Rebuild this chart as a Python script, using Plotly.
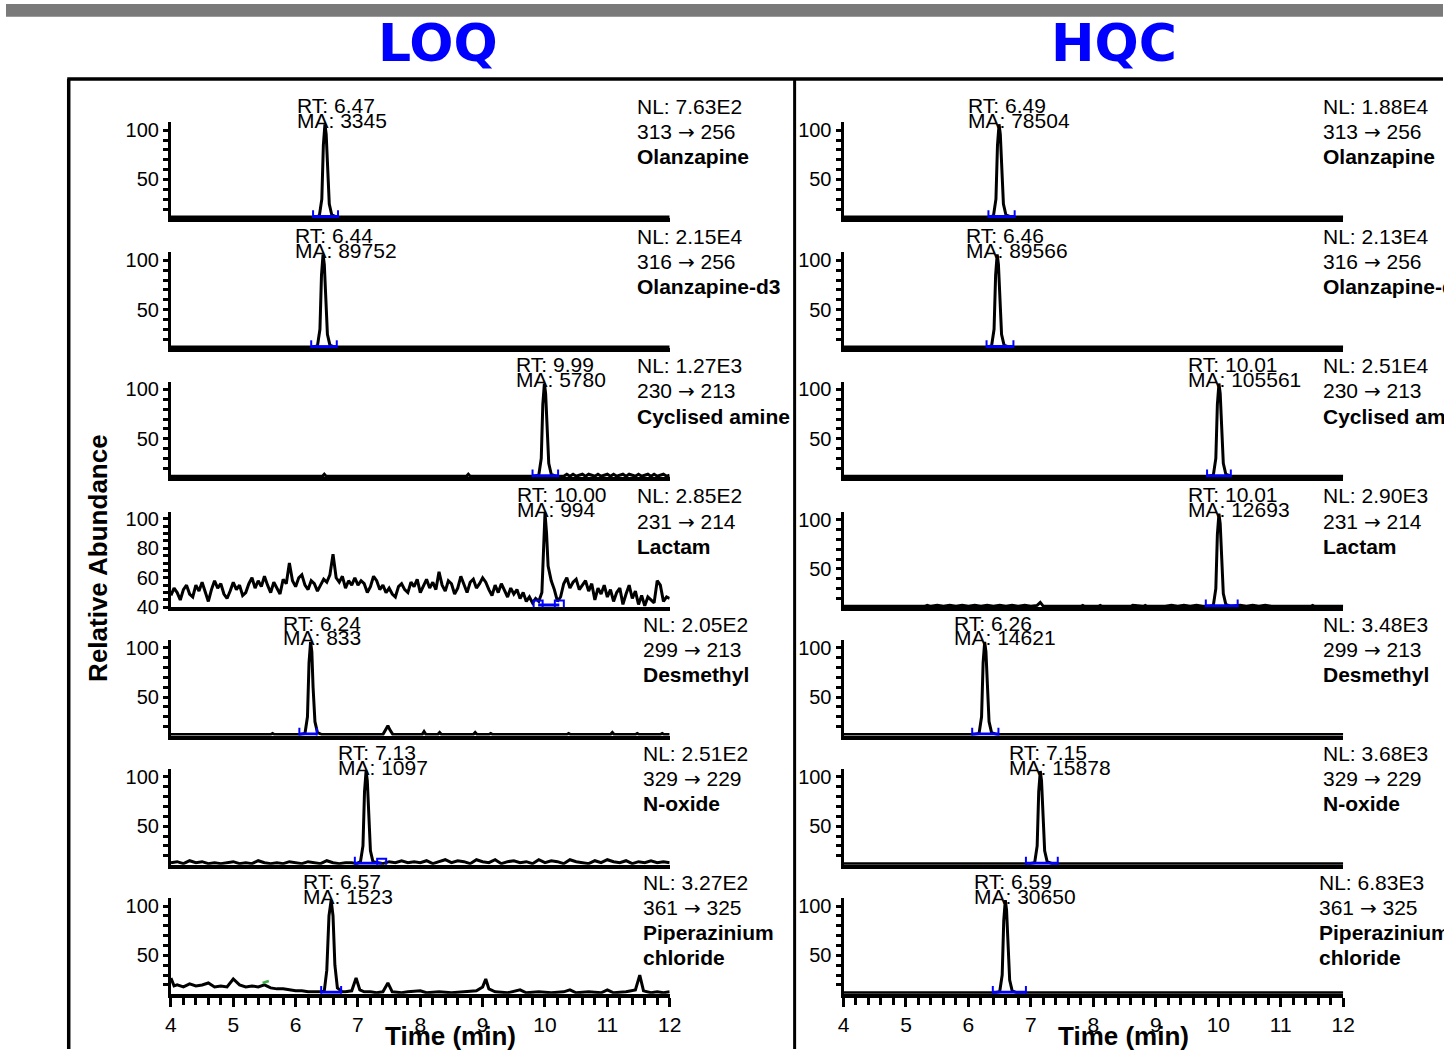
import plotly.graph_objects as go

W, H = 1455, 1060

# ---------------- text data ----------------
compounds = [["Olanzapine"], ["Olanzapine-d3"], ["Cyclised amine"], ["Lactam"],
             ["Desmethyl"], ["N-oxide"], ["Piperazinium", "chloride"]]
precursors = ["313", "316", "230", "231", "299", "329", "361"]
products = ["256", "256", "213", "214", "213", "229", "325"]
loq_nl = ["7.63E2", "2.15E4", "1.27E3", "2.85E2", "2.05E2", "2.51E2", "3.27E2"]
hqc_nl = ["1.88E4", "2.13E4", "2.51E4", "2.90E3", "3.48E3", "3.68E3", "6.83E3"]
loq_rt = ["6.47", "6.44", "9.99", "10.00", "6.24", "7.13", "6.57"]
hqc_rt = ["6.49", "6.46", "10.01", "10.01", "6.26", "7.15", "6.59"]
loq_ma = [3345, 89752, 5780, 994, 833, 1097, 1523]
hqc_ma = [78504, 89566, 105561, 12693, 14621, 15878, 30650]
time_ticks = [4, 5, 6, 7, 8, 9, 10, 11, 12]

# ---------------- chromatogram traces (time, relative abundance) ----------------
loq_olz = [(4.0, 12), (6.30, 12), (6.38, 13), (6.42, 30), (6.445, 85), (6.47, 106), (6.49, 96),
           (6.51, 60), (6.54, 25), (6.58, 14), (6.65, 12), (12.0, 12)]
loq_d3 = [(4.0, 12), (6.27, 12), (6.35, 13), (6.39, 30), (6.415, 85), (6.44, 106), (6.46, 96),
          (6.48, 60), (6.51, 25), (6.55, 14), (6.62, 12), (12.0, 12)]
loq_cyc = [(4.0, 12), (6.43, 12), (6.46, 14), (6.49, 12), (8.74, 12), (8.77, 14), (8.80, 12),
           (9.82, 12), (9.90, 13), (9.94, 30), (9.965, 85), (9.99, 106), (10.01, 96), (10.03, 60),
           (10.06, 25), (10.10, 14), (10.17, 12), (10.30, 12), (10.35, 14), (10.40, 12), (10.45, 14),
           (10.50, 12), (10.55, 13), (10.60, 14), (10.65, 12), (10.70, 14), (10.75, 13), (10.80, 12),
           (10.85, 14), (10.90, 12), (10.95, 13), (11.00, 14), (11.05, 12), (11.10, 14), (11.15, 12),
           (11.20, 13), (11.25, 14), (11.30, 12), (11.35, 14), (11.40, 13), (11.45, 12), (11.50, 14),
           (11.55, 12), (11.60, 13), (11.65, 14), (11.70, 12), (11.75, 14), (11.80, 12), (11.85, 13),
           (11.90, 14), (11.95, 12), (12.0, 13)]
loq_lac = [(4.00, 48), (4.05, 53), (4.10, 50), (4.15, 45), (4.20, 52), (4.25, 55), (4.30, 49), (4.35, 47),
           (4.40, 55), (4.45, 51), (4.50, 57), (4.55, 50), (4.60, 44), (4.65, 52), (4.70, 58), (4.75, 53),
           (4.80, 56), (4.85, 49), (4.90, 46), (4.95, 51),
           (5.00, 57), (5.05, 52), (5.10, 55), (5.15, 48), (5.20, 50), (5.25, 56), (5.30, 60), (5.35, 53),
           (5.40, 58), (5.45, 54), (5.50, 61), (5.55, 55), (5.60, 50), (5.65, 57), (5.70, 53), (5.75, 49),
           (5.80, 59), (5.85, 56), (5.90, 70), (5.95, 58),
           (6.00, 54), (6.05, 60), (6.10, 62), (6.15, 55), (6.20, 52), (6.25, 58), (6.30, 56), (6.35, 51),
           (6.40, 55), (6.45, 59), (6.50, 57), (6.55, 62), (6.60, 76), (6.65, 60), (6.70, 57), (6.75, 61),
           (6.80, 53), (6.85, 58), (6.90, 55), (6.95, 60),
           (7.00, 55), (7.05, 58), (7.10, 56), (7.15, 50), (7.20, 54), (7.25, 61), (7.30, 58), (7.35, 52),
           (7.40, 55), (7.45, 50), (7.50, 53), (7.55, 49), (7.60, 47), (7.65, 54), (7.70, 56), (7.75, 52),
           (7.80, 50), (7.85, 57), (7.90, 54), (7.95, 59),
           (8.00, 50), (8.05, 55), (8.10, 59), (8.15, 53), (8.20, 57), (8.25, 52), (8.30, 64), (8.35, 55),
           (8.40, 51), (8.45, 58), (8.50, 56), (8.55, 49), (8.60, 53), (8.65, 61), (8.70, 55), (8.75, 50),
           (8.80, 57), (8.85, 59), (8.90, 53), (8.95, 56),
           (9.00, 60), (9.05, 57), (9.10, 52), (9.15, 48), (9.20, 55), (9.25, 50), (9.30, 56), (9.35, 51),
           (9.40, 47), (9.45, 53), (9.50, 49), (9.55, 52), (9.60, 46), (9.65, 50), (9.70, 44), (9.75, 47),
           (9.80, 43), (9.85, 46), (9.90, 44), (9.95, 50), (9.975, 82),
           (10.00, 104), (10.025, 90), (10.05, 68), (10.10, 58), (10.15, 52), (10.20, 44), (10.25, 47),
           (10.30, 56), (10.35, 60), (10.40, 53), (10.45, 57), (10.50, 59), (10.55, 52), (10.60, 55),
           (10.65, 58), (10.70, 51), (10.75, 56), (10.80, 45), (10.85, 53), (10.90, 49), (10.95, 55),
           (11.00, 47), (11.05, 52), (11.10, 44), (11.15, 50), (11.20, 53), (11.25, 42), (11.30, 49),
           (11.35, 55), (11.40, 46), (11.45, 51), (11.50, 42), (11.55, 48), (11.60, 41), (11.65, 47),
           (11.70, 45), (11.75, 43), (11.80, 58), (11.85, 55), (11.90, 44), (11.95, 47), (12.00, 46)]
loq_desm = [(4.0, 12), (5.60, 12), (5.63, 13), (5.66, 12), (6.08, 12), (6.15, 13), (6.19, 30),
            (6.215, 85), (6.24, 106), (6.26, 96), (6.28, 60), (6.31, 25), (6.35, 14), (6.42, 12),
            (7.40, 12), (7.45, 17), (7.48, 21), (7.51, 17), (7.56, 12), (8.03, 12), (8.06, 15),
            (8.09, 12), (8.28, 12), (8.31, 14), (8.34, 12), (8.85, 12), (8.88, 14), (8.91, 12),
            (9.10, 12), (9.13, 13), (9.16, 12), (10.35, 12), (10.38, 13), (10.41, 12), (11.05, 12),
            (11.08, 14), (11.11, 12), (11.45, 12), (11.48, 13), (11.51, 12), (11.85, 12), (11.88, 13),
            (11.91, 12), (12.0, 12)]
loq_nox = [(4.0, 13), (4.1, 14), (4.2, 12), (4.3, 15), (4.4, 13), (4.5, 14), (4.6, 12), (4.7, 13),
           (4.8, 12), (4.9, 13), (5.0, 14), (5.1, 12), (5.2, 13), (5.3, 12), (5.4, 15), (5.5, 13),
           (5.6, 12), (5.7, 13), (5.8, 12), (5.9, 14), (6.0, 13), (6.1, 12), (6.2, 14), (6.3, 13),
           (6.4, 12), (6.5, 15), (6.6, 13), (6.7, 12), (6.8, 13), (6.9, 13), (6.98, 12), (7.04, 14),
           (7.08, 30), (7.105, 85), (7.13, 106), (7.15, 96), (7.17, 60), (7.20, 25), (7.24, 14),
           (7.3, 13), (7.4, 12), (7.5, 14), (7.6, 13), (7.7, 15), (7.8, 13), (7.9, 14), (8.0, 13),
           (8.1, 15), (8.2, 12), (8.3, 14), (8.4, 16), (8.5, 13), (8.6, 15), (8.7, 14), (8.8, 12),
           (8.9, 16), (9.0, 14), (9.1, 13), (9.2, 16), (9.3, 12), (9.4, 14), (9.5, 15), (9.6, 13),
           (9.7, 14), (9.8, 12), (9.9, 16), (10.0, 13), (10.1, 15), (10.2, 14), (10.3, 12), (10.4, 16),
           (10.5, 14), (10.6, 13), (10.7, 12), (10.8, 15), (10.9, 13), (11.0, 16), (11.1, 14),
           (11.2, 13), (11.3, 15), (11.4, 12), (11.5, 14), (11.6, 13), (11.7, 15), (11.8, 13),
           (11.9, 14), (12.0, 13)]
loq_pip = [(4.0, 27), (4.05, 19), (4.1, 20), (4.2, 18), (4.3, 21), (4.4, 19), (4.5, 20), (4.6, 22),
           (4.7, 18), (4.8, 19), (4.9, 18), (5.0, 26), (5.1, 20), (5.2, 18), (5.3, 19), (5.4, 18),
           (5.5, 20), (5.6, 17), (5.7, 16), (5.8, 16), (5.9, 15), (6.0, 14), (6.1, 14), (6.2, 13),
           (6.3, 13), (6.4, 13), (6.46, 14), (6.50, 35), (6.535, 90), (6.57, 106), (6.60, 90),
           (6.63, 40), (6.67, 17), (6.75, 13), (6.8, 13), (6.9, 14), (6.97, 27), (7.03, 15), (7.1, 13),
           (7.2, 13), (7.3, 12), (7.4, 13), (7.48, 22), (7.55, 13), (7.7, 12), (7.8, 13), (8.0, 14),
           (8.1, 12), (8.3, 13), (8.5, 12), (8.7, 13), (8.9, 14), (9.0, 18), (9.05, 26), (9.1, 16),
           (9.2, 13), (9.4, 12), (9.6, 15), (9.7, 12), (9.9, 13), (10.1, 12), (10.3, 13), (10.4, 15),
           (10.5, 12), (10.7, 13), (10.9, 12), (11.0, 15), (11.1, 12), (11.3, 13), (11.45, 15),
           (11.52, 30), (11.58, 14), (11.7, 12), (11.8, 13), (11.9, 12), (12.0, 13)]
loq_pip_green = [(5.47, 22), (5.57, 24)]

hqc_olz = [(4.0, 12), (6.32, 12), (6.40, 13), (6.44, 30), (6.465, 85), (6.49, 106), (6.51, 96),
           (6.53, 60), (6.56, 25), (6.60, 14), (6.68, 12), (12.0, 12)]
hqc_d3 = [(4.0, 12), (6.29, 12), (6.37, 13), (6.41, 30), (6.435, 85), (6.46, 106), (6.48, 96),
          (6.50, 60), (6.53, 25), (6.57, 14), (6.65, 12), (12.0, 12)]
hqc_cyc = [(4.0, 12), (9.84, 12), (9.92, 13), (9.96, 30), (9.985, 85), (10.01, 106), (10.03, 96),
           (10.05, 60), (10.08, 25), (10.12, 14), (10.20, 12), (12.0, 12)]
hqc_lac = [(4.0, 12), (5.30, 12), (5.34, 13), (5.40, 12), (5.50, 13), (5.60, 12), (5.70, 13),
           (5.80, 12), (5.90, 13), (6.00, 12), (6.10, 13), (6.20, 12), (6.30, 13), (6.40, 12),
           (6.50, 13), (6.60, 12), (6.70, 13), (6.80, 12), (6.90, 13), (7.00, 12), (7.10, 13),
           (7.15, 16), (7.20, 12), (7.80, 12), (7.83, 13), (7.86, 12), (8.08, 12), (8.11, 13),
           (8.14, 12), (8.60, 12), (8.63, 13), (8.80, 12), (8.83, 13), (8.86, 12), (9.15, 12),
           (9.25, 13), (9.35, 12), (9.45, 13), (9.55, 12), (9.65, 13), (9.75, 12), (9.84, 12),
           (9.92, 13), (9.96, 30), (9.985, 85), (10.01, 106), (10.03, 96), (10.05, 60), (10.08, 25),
           (10.12, 14), (10.20, 12), (10.35, 13), (10.45, 12), (10.55, 13), (10.65, 12), (10.75, 13),
           (10.85, 12), (11.48, 12), (11.51, 13), (11.54, 12), (12.0, 12)]
hqc_desm = [(4.0, 12), (6.09, 12), (6.17, 13), (6.21, 30), (6.235, 85), (6.26, 106), (6.28, 96),
            (6.30, 60), (6.33, 25), (6.37, 14), (6.45, 12), (12.0, 12)]
hqc_nox = [(4.0, 12), (6.98, 12), (7.06, 13), (7.10, 30), (7.125, 85), (7.15, 106), (7.17, 96),
           (7.19, 60), (7.22, 25), (7.26, 14), (7.34, 12), (12.0, 12)]
hqc_pip = [(4.0, 12), (6.42, 12), (6.50, 13), (6.54, 30), (6.565, 85), (6.59, 106), (6.61, 96),
           (6.63, 60), (6.66, 25), (6.70, 14), (6.78, 12), (12.0, 12)]

loq_traces = [loq_olz, loq_d3, loq_cyc, loq_lac, loq_desm, loq_nox, loq_pip]
hqc_traces = [hqc_olz, hqc_d3, hqc_cyc, hqc_lac, hqc_desm, hqc_nox, hqc_pip]

# integration windows (start, end) in minutes
loq_int = [(6.28, 6.68), (6.25, 6.66), (9.80, 10.21), (9.89, 10.23), (6.06, 6.34), (6.95, 7.38), (6.41, 6.73)]
hqc_int = [(6.32, 6.74), (6.29, 6.72), (9.82, 10.20), (9.80, 10.31), (6.06, 6.48), (6.92, 7.43), (6.39, 6.92)]

# ---------------- layout geometry (pixels) ----------------
def X(px):
    return px / W


def Y(py):
    return 1 - py / H


col_px = [(167, 672), (848, 1354)]
row_base = [217, 349, 480, 612, 742, 873, 1004]
row_h = 97

FONT = "Liberation Sans, Arial, sans-serif"
BLUE = "#0000ff"
ARROW = '<span style="font-family:DejaVu Sans;font-size:20px">→</span>'

fig = go.Figure()
layout = {}
annotations = []

for c in range(2):
    traces = loq_traces if c == 0 else hqc_traces
    ints = loq_int if c == 0 else hqc_int
    for r in range(7):
        idx = r * 2 + c + 1
        xa = "x" if idx == 1 else f"x{idx}"
        ya = "y" if idx == 1 else f"y{idx}"
        xk = "xaxis" if idx == 1 else f"xaxis{idx}"
        yk = "yaxis" if idx == 1 else f"yaxis{idx}"
        lactam_loq = (c == 0 and r == 3)
        yr = [40, 104.7] if lactam_loq else [11, 108]
        bottom = (r == 6)

        xdict = dict(domain=[X(col_px[c][0]), X(col_px[c][1])], anchor=ya, range=[4, 12],
                     showline=True, linewidth=4, linecolor="black", showgrid=False, zeroline=False,
                     layer="below traces", fixedrange=True)
        if bottom:
            xdict.update(ticks="outside", tickmode="array", tickvals=time_ticks,
                         ticktext=[str(t) for t in time_ticks], ticklen=9, tickwidth=3,
                         tickcolor="black", tickfont=dict(family=FONT, size=21, color="black"),
                         minor=dict(tickmode="linear", tick0=4, dtick=0.2, ticks="outside",
                                    ticklen=7, tickwidth=3, tickcolor="black"))
        else:
            xdict.update(ticks="", showticklabels=False)
        ydict = dict(domain=[Y(row_base[r]), Y(row_base[r] - row_h)], anchor=xa, range=yr,
                     showline=True, linewidth=3, linecolor="black", showgrid=False, zeroline=False,
                     layer="below traces", fixedrange=True,
                     ticks="outside", tickmode="linear", tick0=0,
                     dtick=20 if lactam_loq else 50, ticklen=5, tickwidth=3, tickcolor="black",
                     tickfont=dict(family=FONT, size=20, color="black"),
                     minor=dict(tickmode="linear", tick0=0, dtick=5 if lactam_loq else 10,
                                ticks="outside", ticklen=5, tickwidth=3, tickcolor="black"))
        layout[xk] = xdict
        layout[yk] = ydict

        tt = [p[0] for p in traces[r]]
        vv = [p[1] for p in traces[r]]
        fig.add_trace(go.Scatter(x=tt, y=vv, mode="lines", xaxis=xa, yaxis=ya,
                                 line=dict(color="black", width=3), hoverinfo="skip"))
        if c == 0 and r == 6:
            fig.add_trace(go.Scatter(x=[p[0] for p in loq_pip_green], y=[p[1] for p in loq_pip_green],
                                     mode="lines", xaxis=xa, yaxis=ya,
                                     line=dict(color="#3cb043", width=2.5), hoverinfo="skip"))

        # integration markers
        s, e = ints[r]
        by = 41.5 if lactam_loq else 12.5
        if lactam_loq:
            syms = ["square-open", "square-open"]
        elif c == 0 and r == 5:
            syms = ["line-ns", "square-open"]
        else:
            syms = ["line-ns", "line-ns"]
        fig.add_trace(go.Scatter(x=[s, e], y=[by, by], mode="lines+markers", xaxis=xa, yaxis=ya,
                                 line=dict(color=BLUE, width=3),
                                 marker=dict(symbol=syms, size=9, color=BLUE,
                                             line=dict(color=BLUE, width=2)),
                                 hoverinfo="skip"))

        # RT / MA labels
        rt = loq_rt[r] if c == 0 else hqc_rt[r]
        ma = loq_ma[r] if c == 0 else hqc_ma[r]
        shift = -30 if c == 0 else -33
        yb = row_base[r]
        annotations.append(dict(x=float(rt), xref=xa, y=Y(yb - 114), yref="paper",
                                text=f"RT: {rt}", showarrow=False, xanchor="left", yanchor="middle",
                                xshift=shift, font=dict(family=FONT, size=21, color="black")))
        annotations.append(dict(x=float(rt), xref=xa, y=Y(yb - 99), yref="paper",
                                text=f"MA: {ma}", showarrow=False, xanchor="left", yanchor="middle",
                                xshift=shift, font=dict(family=FONT, size=21, color="black")))

        # right-hand labels
        nl = loq_nl[r] if c == 0 else hqc_nl[r]
        if c == 0:
            tx = 637 if r < 4 else 643
        else:
            tx = 1332 if r < 6 else 1328
        lines = [(f"NL: {nl}", False), (f"{precursors[r]} {ARROW} {products[r]}", False)] + \
                [(n, True) for n in compounds[r]]
        offs = [113, 87, 62, 37]
        for k, (txt, bold) in enumerate(lines):
            ann = dict(x=X(tx), xref="paper", y=Y(yb - offs[k]), yref="paper",
                       text=f"<b>{txt}</b>" if bold else txt, showarrow=False,
                       xanchor="left", yanchor="middle", align="left",
                       font=dict(family=FONT, size=21, color="black"))
            if c == 1:
                ann.update(width=W - tx - 2, borderpad=0)
            annotations.append(ann)

# titles and axis titles
annotations.append(dict(x=X(437), y=Y(40), xref="paper", yref="paper", text="<b>LOQ</b>",
                        showarrow=False, xanchor="center", yanchor="middle",
                        font=dict(family="DejaVu Sans, Verdana, sans-serif", size=52, color=BLUE)))
annotations.append(dict(x=X(1122), y=Y(40), xref="paper", yref="paper", text="<b>HQC</b>",
                        showarrow=False, xanchor="center", yanchor="middle",
                        font=dict(family="DejaVu Sans, Verdana, sans-serif", size=52, color=BLUE)))
annotations.append(dict(x=X(93), y=Y(562), xref="paper", yref="paper", text="<b>Relative Abundance</b>",
                        showarrow=False, textangle=-90, xanchor="center", yanchor="middle",
                        font=dict(family=FONT, size=26, color="black")))
for cx in (450, 1132):
    annotations.append(dict(x=X(cx), y=Y(1047), xref="paper", yref="paper", text="<b>Time (min)</b>",
                            showarrow=False, xanchor="center", yanchor="middle",
                            font=dict(family=FONT, size=26, color="black")))

LW = 3.5
shapes = [
    dict(type="rect", xref="paper", yref="paper", x0=0, x1=1, y0=Y(13), y1=1.0,
         fillcolor="#7a7a7a", line=dict(width=0), layer="above"),
    dict(type="line", xref="paper", yref="paper", x0=X(62), x1=1.0, y0=Y(76), y1=Y(76),
         line=dict(color="black", width=LW), layer="below"),
    dict(type="line", xref="paper", yref="paper", x0=X(63.5), x1=X(63.5), y0=Y(76), y1=0.0,
         line=dict(color="black", width=LW), layer="below"),
    dict(type="line", xref="paper", yref="paper", x0=X(798.5), x1=X(798.5), y0=Y(76), y1=0.0,
         line=dict(color="black", width=3), layer="below"),
]

fig.update_layout(width=W, height=H, autosize=False, margin=dict(l=0, r=0, t=0, b=0, pad=0),
                  paper_bgcolor="white", plot_bgcolor="rgba(0,0,0,0)", showlegend=False,
                  annotations=annotations, shapes=shapes, **layout)

fig.write_html("out.html", config={"displayModeBar": False},
               post_script="document.body.style.margin='0px';document.body.style.overflow='hidden';")
